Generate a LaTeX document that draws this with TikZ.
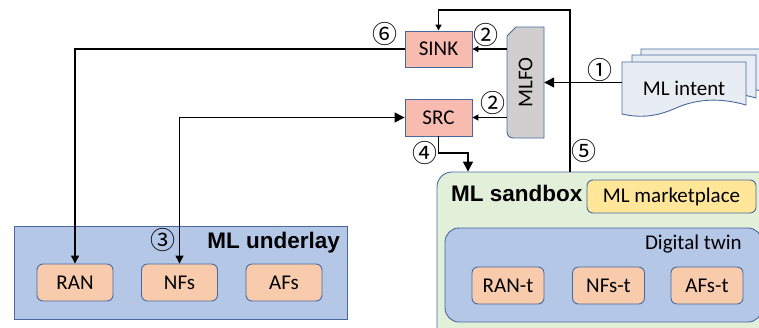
\documentclass[tikz,border=0pt]{standalone}
\usepackage{fontspec}
\setmainfont{Carlito}
\newfontfamily\headfont{Liberation Sans}
\newfontfamily\numfont{Noto Sans CJK JP}
\usetikzlibrary{arrows.meta,calc}

\definecolor{boxline}{RGB}{72,104,160}
\definecolor{sinkfill}{RGB}{248,187,176}
\definecolor{peach}{RGB}{248,203,173}
\definecolor{layerblue}{RGB}{180,199,231}
\definecolor{sandgreen}{RGB}{226,239,217}
\definecolor{marketyellow}{RGB}{255,230,153}
\definecolor{mlfogray}{RGB}{208,206,206}
\definecolor{docfill}{RGB}{232,236,243}

\tikzset{
  lbl/.style={font=\fontsize{21}{25}\selectfont},
  headlbl/.style={font=\headfont\bfseries\fontsize{22.5}{26}\selectfont, inner sep=0},
  numlbl/.style={font=\numfont\fontsize{25}{25}\selectfont, inner sep=0},
  ctrlbox/.style={lbl, draw=boxline, fill=sinkfill, line width=0.9pt,
    minimum width=67pt, minimum height=36pt, inner sep=0},
  nfbox/.style={lbl, draw=boxline, fill=peach, line width=0.9pt, rounded corners=6pt,
    minimum width=76pt, minimum height=37pt, inner sep=0},
  twinbox/.style={nfbox, minimum width=72pt},
  wire/.style={line width=1.3pt, black},
  bigtip/.style={-{Triangle[length=10pt,width=10pt]}},
  medtip/.style={-{Triangle[length=8pt,width=8pt]}},
  smalltip/.style={-{Triangle[length=6pt,width=6pt]}},
}

\begin{document}
\begin{tikzpicture}[x=1pt,y=-1pt]
\useasboundingbox (0,0) rectangle (759,327);
\clip (0,0) rectangle (759,327);

% containers
\node (underlay) [draw=boxline, fill=layerblue, line width=0.9pt,
  minimum width=333pt, minimum height=93pt] at (180.5,272.5) {};
\node[headlbl, anchor=east] at (340,243) {ML underlay};

\node (sandbox) [draw=boxline, fill=sandgreen, line width=0.9pt, rounded corners=15pt,
  minimum width=353pt, minimum height=178pt] at (613.5,261) {};
\node[headlbl, anchor=west] at (451,193) {ML sandbox};
\node (market) [lbl, draw=boxline, fill=marketyellow, line width=0.9pt, rounded corners=6pt,
  minimum width=169pt, minimum height=33pt, inner sep=0] at (671.5,196.5) {ML marketplace};
\node (twin) [draw=boxline, fill=layerblue, line width=0.9pt, rounded corners=14pt,
  minimum width=317pt, minimum height=94pt] at (603.5,275) {};
\node[lbl, anchor=east, inner sep=0] at (742,244) {Digital twin};

% network functions and their twins
\node (ran) [nfbox] at (75,282.5) {RAN};
\node (nfs) [nfbox] at (179.5,282.5) {NFs};
\node (afs) [nfbox] at (284,282.5) {AFs};
\node (rant) [twinbox] at (508,285.5) {RAN-t};
\node (nfst) [twinbox] at (608.5,285.5) {NFs-t};
\node (afst) [twinbox] at (707,285.5) {AFs-t};

% sink and source
\node (sink) [ctrlbox] at (438.5,49) {SINK};
\node (src) [ctrlbox, minimum height=37pt] at (438.5,117.5) {SRC};

% MLFO: snipped top-left corner, rounded bottom-left corner
\draw[draw=boxline, fill=mlfogray, line width=0.9pt]
  (507,36) -- (516,27) -- (544,27) -- (544,138) -- (513,138)
  .. controls (509.7,138) and (507,135.3) .. (507,132) -- cycle;
\node (mlfo) [minimum width=37pt, minimum height=111pt, inner sep=0] at (525.5,82.5) {};
\node[lbl, rotate=90] at (mlfo.center) {MLFO};

% stacked ML intent documents
\foreach \dx/\dy in {19/-13, 10/-7, 0/0} {
  \begin{scope}[shift={(\dx,\dy)}]
    \draw[draw=boxline, fill=docfill, line width=0.9pt]
      (622,62) -- (746,62) -- (746,105)
      .. controls (715,96) and (692,101) .. (676,108)
      .. controls (656,117) and (640,118) .. (622,114) -- cycle;
  \end{scope}
}
\node (intent) [lbl, minimum width=124pt, minimum height=53pt, inner sep=0] at (684,88.5) {ML intent};

% route helpers
\coordinate (c5) at (570,10);
\coordinate (c4) at (468,153);

% connectors
\draw[wire, bigtip] (intent.west |- mlfo.east) -- (mlfo.east);
\draw[wire, smalltip] (mlfo.west |- sink.east) -- (sink.east);
\draw[wire, smalltip] (mlfo.west |- src.east) -- (src.east);
\draw[wire, smalltip] (sandbox.north -| c5) -- (c5) -| (sink.north);
\draw[wire, bigtip] (src.south) |- (c4) -- (c4 |- sandbox.north);
\draw[wire, medtip] (sink.west) -| (ran.north);
\draw[wire, {Triangle[length=8pt,width=8pt]}-{Triangle[length=10pt,width=10pt]}]
  (nfs.north) |- (src.west);

% step numbers
\node[numlbl] at (600,70) {①};
\node[numlbl] at (486,35) {②};
\node[numlbl] at (493,103) {②};
\node[numlbl] at (163,240) {③};
\node[numlbl] at (425,153) {④};
\node[numlbl] at (584,151) {⑤};
\node[numlbl] at (385,34) {⑥};
\end{tikzpicture}
\end{document}
